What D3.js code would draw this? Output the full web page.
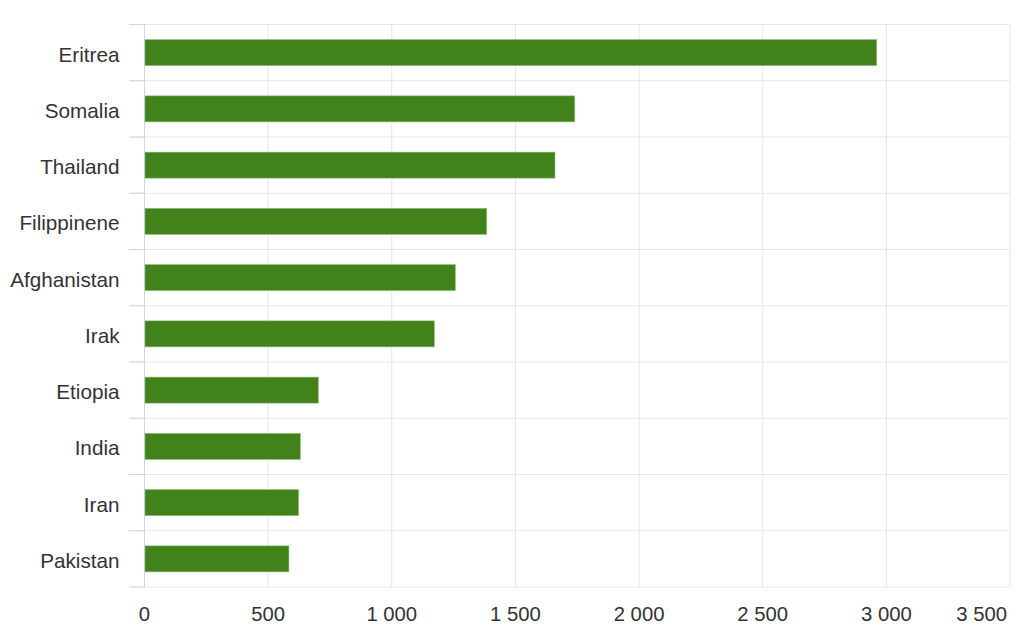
<!DOCTYPE html>
<html lang="en">
<head>
    <meta charset="UTF-8">
    <title>Horizontal bar chart</title>
    <script src="https://d3js.org/d3.v7.min.js"></script>
    <style>
        body { margin: 0; background: #ffffff; }
        text { font-family: "Liberation Sans", Arial, sans-serif; fill: #333333; }
    </style>
</head>
<body>
    <div id="my_dataviz"></div>

    <script>
        // data
        var countries = ["Eritrea", "Somalia", "Thailand", "Filippinene", "Afghanistan",
                         "Irak", "Etiopia", "India", "Iran", "Pakistan"];
        var values = [2961, 1740, 1660, 1384, 1257, 1172, 703, 630, 623, 584];
        var xTicks = [0, 500, 1000, 1500, 2000, 2500, 3000, 3500];

        var margin = {top: 24.5, right: 14, bottom: 39, left: 144.5};
        var width = 1024 - margin.left - margin.right;
        var height = 626 - margin.top - margin.bottom;

        var svg = d3.select("#my_dataviz")
            .append("svg")
            .attr("width", 1024)
            .attr("height", 626)
            .append("g")
            .attr("transform", "translate(" + margin.left + "," + margin.top + ")");

        var x = d3.scaleLinear()
            .domain([0, 3500])
            .range([0, width]);

        var y = d3.scaleBand()
            .domain(countries)
            .range([0, height])
            .padding(0);

        // vertical grid lines
        svg.append("g")
            .selectAll("line")
            .data(xTicks)
            .enter()
            .append("line")
            .attr("x1", function(d) { return x(d); })
            .attr("x2", function(d) { return x(d); })
            .attr("y1", 0)
            .attr("y2", height)
            .attr("stroke", "#e6e6e6")
            .attr("stroke-width", 1);

        // horizontal grid lines at category boundaries
        var bounds = countries.map(function(c) { return y(c); }).concat([height]);
        svg.append("g")
            .selectAll("line")
            .data(bounds)
            .enter()
            .append("line")
            .attr("x1", -15.5)
            .attr("x2", width)
            .attr("y1", function(d) { return d; })
            .attr("y2", function(d) { return d; })
            .attr("stroke", "#e6e6e6")
            .attr("stroke-width", 1);

        // left axis with ticks between categories
        svg.append("line")
            .attr("x1", 0).attr("x2", 0)
            .attr("y1", 0).attr("y2", height)
            .attr("stroke", "#ccd6eb");
        svg.append("g")
            .selectAll("line")
            .data(bounds)
            .enter()
            .append("line")
            .attr("x1", -15.5)
            .attr("x2", 0)
            .attr("y1", function(d) { return d; })
            .attr("y2", function(d) { return d; })
            .attr("stroke", "#ccd6eb");

        // bars
        var barH = 26;
        svg.append("g")
            .selectAll("rect")
            .data(countries)
            .enter()
            .append("rect")
            .attr("x", 0.5)
            .attr("y", function(d) { return y(d) + y.bandwidth() / 2 - barH / 2; })
            .attr("width", function(d, i) { return x(values[i]) - 0.5; })
            .attr("height", barH)
            .attr("fill", "#41821a")
            .attr("stroke", "#8fb87a")
            .attr("stroke-width", 0.6);

        // category labels
        svg.append("g")
            .selectAll("text")
            .data(countries)
            .enter()
            .append("text")
            .attr("x", -25)
            .attr("y", function(d) { return y(d) + y.bandwidth() / 2 + 9; })
            .attr("text-anchor", "end")
            .style("font-size", "20.7px")
            .text(function(d) { return d; });

        // x tick labels, last one kept inside the chart
        var fmt = function(d) { return d3.format(",")(d).replace(/,/g, " "); };
        svg.append("g")
            .selectAll("text")
            .data(xTicks)
            .enter()
            .append("text")
            .attr("x", function(d, i) { return i === xTicks.length - 1 ? x(d) - 3 : x(d); })
            .attr("y", height + 33.5)
            .attr("text-anchor", function(d, i) { return i === xTicks.length - 1 ? "end" : "middle"; })
            .style("font-size", "20.3px")
            .text(fmt);
    </script>
</body>
</html>
